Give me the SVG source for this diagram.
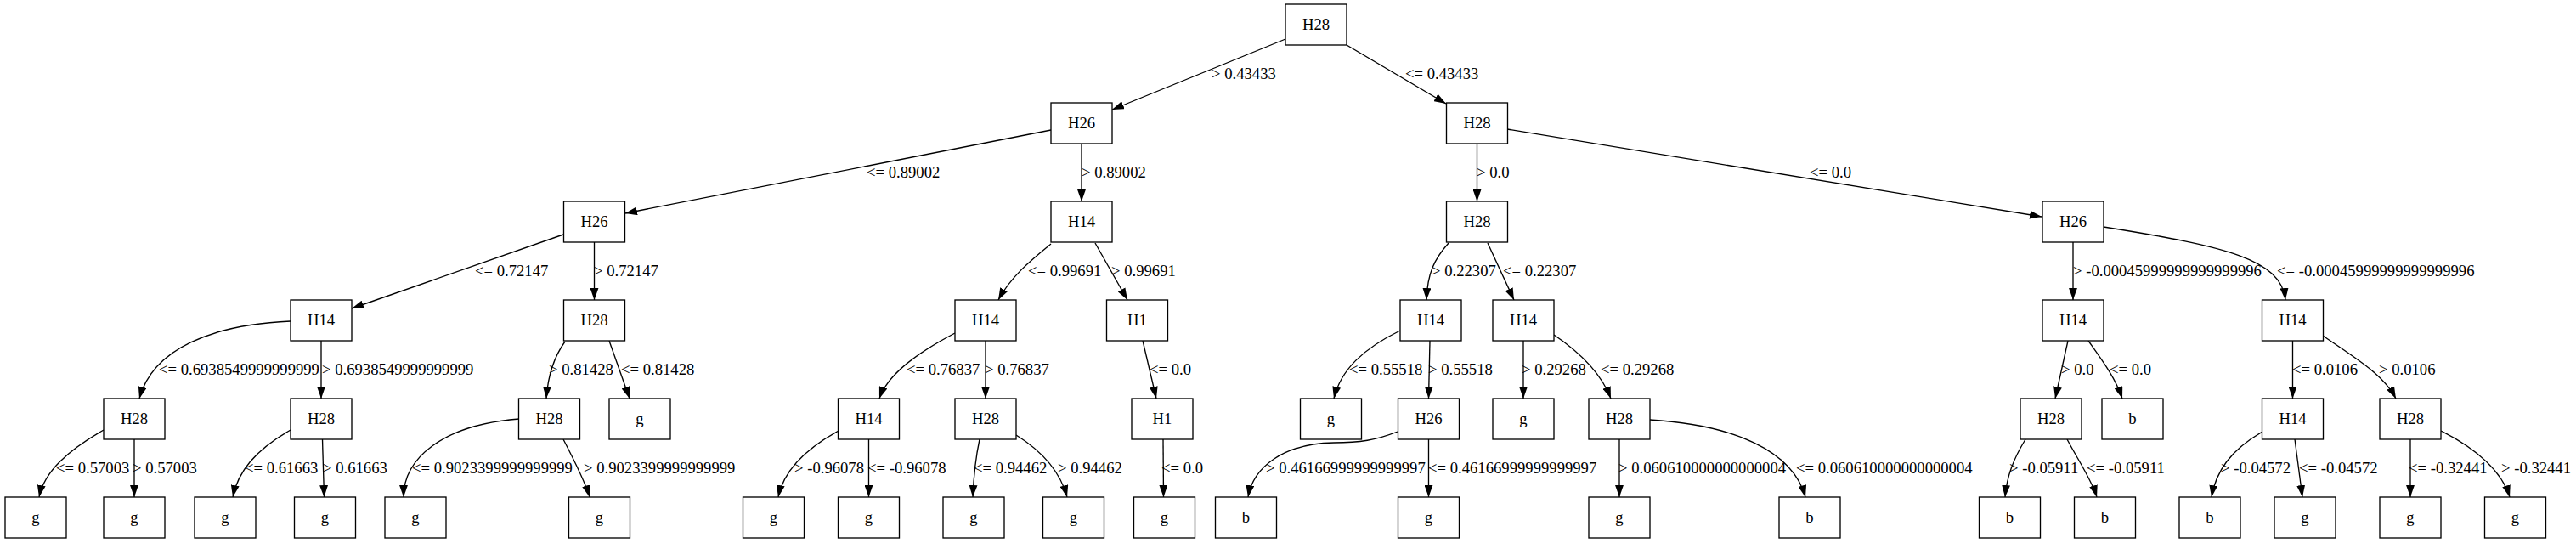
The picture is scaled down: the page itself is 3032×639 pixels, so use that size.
<svg xmlns="http://www.w3.org/2000/svg" width="3032" height="639" viewBox="0 0 3032 639">
<defs>
<marker id="ah" markerUnits="userSpaceOnUse" markerWidth="14" markerHeight="10" viewBox="0 0 13.3 9.4" refX="13.3" refY="4.7" orient="auto">
<path d="M0,0 L13.3,4.7 L0,9.4 Z" fill="black"/>
</marker>
<style>
text{font-family:"Liberation Serif","Times New Roman",serif;font-size:18.67px;fill:#000}
.n rect{fill:#fff;stroke:#000;stroke-width:1.33}
.n text{text-anchor:middle}
.e path{fill:none;stroke:#000;stroke-width:1.33;marker-end:url(#ah)}
</style>
</defs>
<rect x="0" y="0" width="3032" height="639" fill="#fff"/>
<g id="connectors">
<g class="e"><path d="M1513,46 L1309,129"/><text x="1426" y="93">&gt; 0.43433</text></g>
<g class="e"><path d="M1585,53 L1702,122"/><text x="1654" y="93">&lt;= 0.43433</text></g>
<g class="e"><path d="M1237,153 L736,251"/><text x="1020" y="209">&lt;= 0.89002</text></g>
<g class="e"><path d="M1273,169 L1273,237"/><text x="1273" y="209">&gt; 0.89002</text></g>
<g class="e"><path d="M1738.5,169 L1738.5,237"/><text x="1738" y="209">&gt; 0.0</text></g>
<g class="e"><path d="M1774,152 L2403,255"/><text x="2130" y="209">&lt;= 0.0</text></g>
<g class="e"><path d="M663,276 L414,363"/><text x="559" y="325">&lt;= 0.72147</text></g>
<g class="e"><path d="M699.5,285 L699.5,353"/><text x="699" y="325">&gt; 0.72147</text></g>
<g class="e"><path d="M1237,287 C1215,305 1190,325 1175,353"/><text x="1210" y="325">&lt;= 0.99691</text></g>
<g class="e"><path d="M1289,286 L1327,353"/><text x="1308" y="325">&gt; 0.99691</text></g>
<g class="e"><path d="M1705,286 C1688,305 1680,322 1679,353"/><text x="1685" y="325">&gt; 0.22307</text></g>
<g class="e"><path d="M1751,286 L1782,353"/><text x="1769" y="325">&lt;= 0.22307</text></g>
<g class="e"><path d="M2440,285 L2440,353"/><text x="2440" y="325">&gt; -0.00045999999999999996</text></g>
<g class="e"><path d="M2476,267 C2620,290 2685,305 2690,353"/><text x="2680" y="325">&lt;= -0.00045999999999999996</text></g>
<g class="e"><path d="M342,378 C250,382 180,410 164,469"/><text x="187" y="441">&lt;= 0.6938549999999999</text></g>
<g class="e"><path d="M378,401 L378,469"/><text x="379" y="441">&gt; 0.6938549999999999</text></g>
<g class="e"><path d="M665,402 C652,420 645,440 643,469"/><text x="646" y="441">&gt; 0.81428</text></g>
<g class="e"><path d="M717,401 L741,469"/><text x="731" y="441">&lt;= 0.81428</text></g>
<g class="e"><path d="M1124,392 C1080,415 1045,440 1035,469"/><text x="1067" y="441">&lt;= 0.76837</text></g>
<g class="e"><path d="M1160,401 L1160,469"/><text x="1159" y="441">&gt; 0.76837</text></g>
<g class="e"><path d="M1345,401 L1361,469"/><text x="1353" y="441">&lt;= 0.0</text></g>
<g class="e"><path d="M1648,389 C1605,410 1578,435 1570,469"/><text x="1588" y="441">&lt;= 0.55518</text></g>
<g class="e"><path d="M1683,401 L1681.5,469"/><text x="1681" y="441">&gt; 0.55518</text></g>
<g class="e"><path d="M1793,401 L1793,469"/><text x="1791" y="441">&gt; 0.29268</text></g>
<g class="e"><path d="M1829,394 C1860,415 1885,440 1896,469"/><text x="1884" y="441">&lt;= 0.29268</text></g>
<g class="e"><path d="M2434,401 L2419,469"/><text x="2426" y="441">&gt; 0.0</text></g>
<g class="e"><path d="M2458,401 C2475,425 2490,445 2498,469"/><text x="2483" y="441">&lt;= 0.0</text></g>
<g class="e"><path d="M2698.5,401 L2698.5,469"/><text x="2698" y="441">&lt;= 0.0106</text></g>
<g class="e"><path d="M2734,395 C2770,420 2805,440 2820,469"/><text x="2800" y="441">&gt; 0.0106</text></g>
<g class="e"><path d="M122,506 C80,530 52,555 46,585"/><text x="66" y="557">&lt;= 0.57003</text></g>
<g class="e"><path d="M158,517 L158,585"/><text x="156" y="557">&gt; 0.57003</text></g>
<g class="e"><path d="M342,506 C300,530 280,555 274,585"/><text x="288" y="557">&lt;= 0.61663</text></g>
<g class="e"><path d="M379.5,517 L381.5,585"/><text x="380" y="557">&gt; 0.61663</text></g>
<g class="e"><path d="M611,493 C520,500 475,540 475,585"/><text x="485" y="557">&lt;= 0.9023399999999999</text></g>
<g class="e"><path d="M663,517 C675,540 688,565 694,585"/><text x="687" y="557">&gt; 0.9023399999999999</text></g>
<g class="e"><path d="M987,507 C945,530 922,555 916,585"/><text x="935" y="557">&gt; -0.96078</text></g>
<g class="e"><path d="M1022.5,517 L1022.5,585"/><text x="1021" y="557">&lt;= -0.96078</text></g>
<g class="e"><path d="M1153,517 C1148,540 1146,560 1145,585"/><text x="1146" y="557">&lt;= 0.94462</text></g>
<g class="e"><path d="M1196,512 C1225,530 1248,555 1256,585"/><text x="1245" y="557">&gt; 0.94462</text></g>
<g class="e"><path d="M1369,517 L1369.5,585"/><text x="1367" y="557">&lt;= 0.0</text></g>
<g class="e"><path d="M1645,508 C1620,518 1600,521 1570,521 C1510,522 1475,550 1469,585"/><text x="1490" y="557">&gt; 0.46166999999999997</text></g>
<g class="e"><path d="M1681.5,517 L1681.5,585"/><text x="1681" y="557">&lt;= 0.46166999999999997</text></g>
<g class="e"><path d="M1906,517 L1906,585"/><text x="1905" y="557">&gt; 0.060610000000000004</text></g>
<g class="e"><path d="M1942,494 C2040,500 2110,530 2125,585"/><text x="2114" y="557">&lt;= 0.060610000000000004</text></g>
<g class="e"><path d="M2384,517 C2370,540 2362,560 2360,585"/><text x="2365" y="557">&gt; -0.05911</text></g>
<g class="e"><path d="M2433,517 C2448,545 2462,565 2468,585"/><text x="2456" y="557">&lt;= -0.05911</text></g>
<g class="e"><path d="M2663,508 C2625,530 2608,555 2603,585"/><text x="2614" y="557">&gt; -0.04572</text></g>
<g class="e"><path d="M2701,517 L2710,585"/><text x="2706" y="557">&lt;= -0.04572</text></g>
<g class="e"><path d="M2837,517 L2837,585"/><text x="2835" y="557">&lt;= -0.32441</text></g>
<g class="e"><path d="M2873,507 C2915,528 2945,555 2954,585"/><text x="2944" y="557">&gt; -0.32441</text></g>
</g>
<g id="n0" class="n"><rect x="1513" y="5" width="72" height="48"/><text x="1549" y="35">H28</text></g>
<g id="n1" class="n"><rect x="1237" y="121" width="72" height="48"/><text x="1273" y="151">H26</text></g>
<g id="n2" class="n"><rect x="1702.5" y="121" width="72" height="48"/><text x="1738.5" y="151">H28</text></g>
<g id="n3" class="n"><rect x="663.5" y="237" width="72" height="48"/><text x="699.5" y="267">H26</text></g>
<g id="n4" class="n"><rect x="1237" y="237" width="72" height="48"/><text x="1273" y="267">H14</text></g>
<g id="n5" class="n"><rect x="1702.5" y="237" width="72" height="48"/><text x="1738.5" y="267">H28</text></g>
<g id="n6" class="n"><rect x="2404" y="237" width="72" height="48"/><text x="2440" y="267">H26</text></g>
<g id="n7" class="n"><rect x="342" y="353" width="72" height="48"/><text x="378" y="383">H14</text></g>
<g id="n8" class="n"><rect x="663.5" y="353" width="72" height="48"/><text x="699.5" y="383">H28</text></g>
<g id="n9" class="n"><rect x="1124" y="353" width="72" height="48"/><text x="1160" y="383">H14</text></g>
<g id="n10" class="n"><rect x="1302.5" y="353" width="72" height="48"/><text x="1338.5" y="383">H1</text></g>
<g id="n11" class="n"><rect x="1648" y="353" width="72" height="48"/><text x="1684" y="383">H14</text></g>
<g id="n12" class="n"><rect x="1757" y="353" width="72" height="48"/><text x="1793" y="383">H14</text></g>
<g id="n13" class="n"><rect x="2404" y="353" width="72" height="48"/><text x="2440" y="383">H14</text></g>
<g id="n14" class="n"><rect x="2662.5" y="353" width="72" height="48"/><text x="2698.5" y="383">H14</text></g>
<g id="n15" class="n"><rect x="122" y="469" width="72" height="48"/><text x="158" y="499">H28</text></g>
<g id="n16" class="n"><rect x="342" y="469" width="72" height="48"/><text x="378" y="499">H28</text></g>
<g id="n17" class="n"><rect x="610.5" y="469" width="72" height="48"/><text x="646.5" y="499">H28</text></g>
<g id="n18" class="n"><rect x="717" y="469" width="72" height="48"/><text x="753" y="499">g</text></g>
<g id="n19" class="n"><rect x="986.5" y="469" width="72" height="48"/><text x="1022.5" y="499">H14</text></g>
<g id="n20" class="n"><rect x="1124" y="469" width="72" height="48"/><text x="1160" y="499">H28</text></g>
<g id="n21" class="n"><rect x="1332" y="469" width="72" height="48"/><text x="1368" y="499">H1</text></g>
<g id="n22" class="n"><rect x="1530.5" y="469" width="72" height="48"/><text x="1566.5" y="499">g</text></g>
<g id="n23" class="n"><rect x="1645.5" y="469" width="72" height="48"/><text x="1681.5" y="499">H26</text></g>
<g id="n24" class="n"><rect x="1757" y="469" width="72" height="48"/><text x="1793" y="499">g</text></g>
<g id="n25" class="n"><rect x="1870" y="469" width="72" height="48"/><text x="1906" y="499">H28</text></g>
<g id="n26" class="n"><rect x="2378" y="469" width="72" height="48"/><text x="2414" y="499">H28</text></g>
<g id="n27" class="n"><rect x="2474" y="469" width="72" height="48"/><text x="2510" y="499">b</text></g>
<g id="n28" class="n"><rect x="2662.5" y="469" width="72" height="48"/><text x="2698.5" y="499">H14</text></g>
<g id="n29" class="n"><rect x="2801" y="469" width="72" height="48"/><text x="2837" y="499">H28</text></g>
<g id="n30" class="n"><rect x="6" y="585" width="72" height="48"/><text x="42" y="615">g</text></g>
<g id="n31" class="n"><rect x="122" y="585" width="72" height="48"/><text x="158" y="615">g</text></g>
<g id="n32" class="n"><rect x="229" y="585" width="72" height="48"/><text x="265" y="615">g</text></g>
<g id="n33" class="n"><rect x="346.5" y="585" width="72" height="48"/><text x="382.5" y="615">g</text></g>
<g id="n34" class="n"><rect x="453" y="585" width="72" height="48"/><text x="489" y="615">g</text></g>
<g id="n35" class="n"><rect x="669.5" y="585" width="72" height="48"/><text x="705.5" y="615">g</text></g>
<g id="n36" class="n"><rect x="874.5" y="585" width="72" height="48"/><text x="910.5" y="615">g</text></g>
<g id="n37" class="n"><rect x="986.5" y="585" width="72" height="48"/><text x="1022.5" y="615">g</text></g>
<g id="n38" class="n"><rect x="1110" y="585" width="72" height="48"/><text x="1146" y="615">g</text></g>
<g id="n39" class="n"><rect x="1227.5" y="585" width="72" height="48"/><text x="1263.5" y="615">g</text></g>
<g id="n40" class="n"><rect x="1334.5" y="585" width="72" height="48"/><text x="1370.5" y="615">g</text></g>
<g id="n41" class="n"><rect x="1430.5" y="585" width="72" height="48"/><text x="1466.5" y="615">b</text></g>
<g id="n42" class="n"><rect x="1645.5" y="585" width="72" height="48"/><text x="1681.5" y="615">g</text></g>
<g id="n43" class="n"><rect x="1870" y="585" width="72" height="48"/><text x="1906" y="615">g</text></g>
<g id="n44" class="n"><rect x="2094" y="585" width="72" height="48"/><text x="2130" y="615">b</text></g>
<g id="n45" class="n"><rect x="2329.5" y="585" width="72" height="48"/><text x="2365.5" y="615">b</text></g>
<g id="n46" class="n"><rect x="2441.5" y="585" width="72" height="48"/><text x="2477.5" y="615">b</text></g>
<g id="n47" class="n"><rect x="2565" y="585" width="72" height="48"/><text x="2601" y="615">b</text></g>
<g id="n48" class="n"><rect x="2677" y="585" width="72" height="48"/><text x="2713" y="615">g</text></g>
<g id="n49" class="n"><rect x="2801" y="585" width="72" height="48"/><text x="2837" y="615">g</text></g>
<g id="n50" class="n"><rect x="2924.5" y="585" width="72" height="48"/><text x="2960.5" y="615">g</text></g>
</svg>
